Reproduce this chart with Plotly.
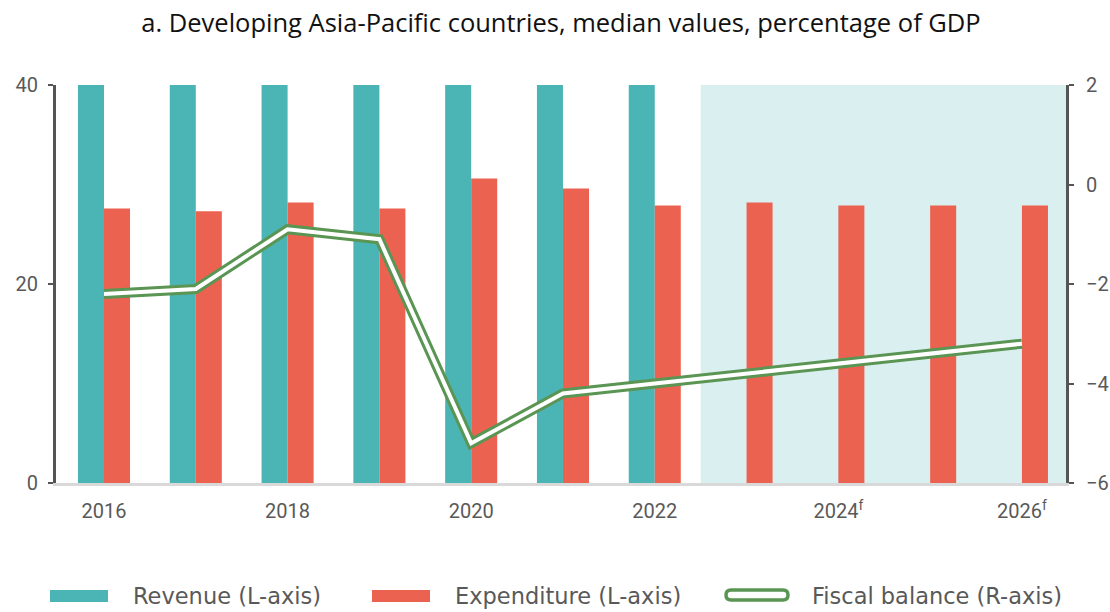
import plotly.graph_objects as go

years = [2016, 2017, 2018, 2019, 2020, 2021, 2022, 2023, 2024, 2025, 2026]
revenue = [40, 40, 40, 40, 40, 40, 40, None, None, None, None]
expenditure = [27.6, 27.3, 28.2, 27.6, 30.6, 29.6, 27.9, 28.2, 27.9, 27.9, 27.9]
fiscal_balance = [-2.2, -2.1, -0.9, -1.1, -5.2, -4.2, -4.0, -3.8, -3.6, -3.4, -3.2]
tick_years = [2016, 2018, 2020, 2022, 2024, 2026]
tick_labels = ["2016", "2018", "2020", "2022", "2024<sup>f</sup>", "2026<sup>f</sup>"]

TEAL = "#4AB5B4"
RED = "#EC6250"
GREEN = "#5A9553"
SHADE = "#DAEFF0"
TXT = "#595959"

W, H = 1110, 612
L, R, T, B = 56, 44, 85, 129
PW, PH = W - L - R, H - T - B

def px_x(x):
    return (x - L) / PW

def px_y(y):
    return (H - B - y) / PH

fig = go.Figure()
fig.add_trace(go.Bar(x=years, y=revenue, name="Revenue (L-axis)", marker_color=TEAL,
                     marker_line_width=0, showlegend=False))
fig.add_trace(go.Bar(x=years, y=expenditure, name="Expenditure (L-axis)", marker_color=RED,
                     marker_line_width=0, showlegend=False))
fig.add_trace(go.Scatter(x=years, y=fiscal_balance, yaxis="y2", mode="lines",
                         line=dict(color=GREEN, width=10), showlegend=False,
                         name="Fiscal balance (R-axis)"))
fig.add_trace(go.Scatter(x=years, y=fiscal_balance, yaxis="y2", mode="lines",
                         line=dict(color="white", width=4), showlegend=False,
                         hoverinfo="skip"))

# forecast shading
fig.add_shape(type="rect", xref="x", yref="paper", x0=2022.5, x1=2026.48, y0=0, y1=1,
              fillcolor=SHADE, line_width=0, layer="below")

# manual legend
legend_y = 596
fig.add_shape(type="rect", xref="paper", yref="paper", x0=px_x(50), x1=px_x(108),
              y0=px_y(590), y1=px_y(602), fillcolor=TEAL, line_width=0)
fig.add_shape(type="rect", xref="paper", yref="paper", x0=px_x(372), x1=px_x(430),
              y0=px_y(590), y1=px_y(602), fillcolor=RED, line_width=0)
# rounded outline for fiscal balance
x0, x1, y0, y1, r = 726, 788, 590, 600, 5
ym = (y0 + y1) / 2
path = (f"M {px_x(x0 + r)},{px_y(y0)} L {px_x(x1 - r)},{px_y(y0)} "
        f"Q {px_x(x1)},{px_y(y0)} {px_x(x1)},{px_y(ym)} "
        f"Q {px_x(x1)},{px_y(y1)} {px_x(x1 - r)},{px_y(y1)} "
        f"L {px_x(x0 + r)},{px_y(y1)} "
        f"Q {px_x(x0)},{px_y(y1)} {px_x(x0)},{px_y(ym)} "
        f"Q {px_x(x0)},{px_y(y0)} {px_x(x0 + r)},{px_y(y0)} Z")
fig.add_shape(type="path", xref="paper", yref="paper", path=path,
              line=dict(color=GREEN, width=3.5), fillcolor="white")

legend_texts = [(131, "Revenue (L-axis)"), (453, "Expenditure (L-axis)"), (810, "Fiscal balance (R-axis)")]
for xpos, txt in legend_texts:
    fig.add_annotation(xref="paper", yref="paper", x=px_x(xpos), y=px_y(legend_y),
                       text=txt, showarrow=False, xanchor="left", yanchor="middle",
                       font=dict(family="DejaVu Sans", size=22.5, color=TXT))

fig.update_layout(
    width=W, height=H,
    margin=dict(l=L, r=R, t=T, b=B, autoexpand=False),
    paper_bgcolor="white", plot_bgcolor="white",
    barmode="group", bargap=0.433, bargroupgap=0,
    title=dict(text="a. Developing Asia-Pacific countries, median values, percentage of GDP",
               x=0.5, xref="paper", xanchor="center", y=1 - 23 / H, yanchor="middle",
               font=dict(family="Open Sans", size=25.5, color="#111111")),
    xaxis=dict(range=[2015.477, 2026.48], tickvals=tick_years, ticktext=tick_labels,
               showgrid=False, zeroline=False, showline=True, linecolor="#D9D9D9", linewidth=3,
               ticks="", ticklabelstandoff=8, automargin=False,
               tickfont=dict(family="Roboto", size=20, color=TXT)),
    yaxis=dict(range=[0, 40], tickvals=[0, 20, 40], showgrid=False, zeroline=False,
               showline=True, linecolor="#555555", linewidth=3, ticks="outside", ticklen=5,
               tickwidth=2, tickcolor="#555555", ticklabelstandoff=6, automargin=False,
               tickfont=dict(family="Roboto", size=20, color=TXT)),
    yaxis2=dict(range=[-6, 2], tickvals=[-6, -4, -2, 0, 2], overlaying="y", side="right",
                showgrid=False, zeroline=False, showline=True, linecolor="#555555", linewidth=3,
                ticks="outside", ticklen=5, tickwidth=2, tickcolor="#555555",
                ticklabelstandoff=8, automargin=False,
                tickfont=dict(family="Roboto", size=20, color=TXT)),
)

fig.write_html("out.html", config={"displayModeBar": False},
               post_script="document.body.style.margin='0';")
